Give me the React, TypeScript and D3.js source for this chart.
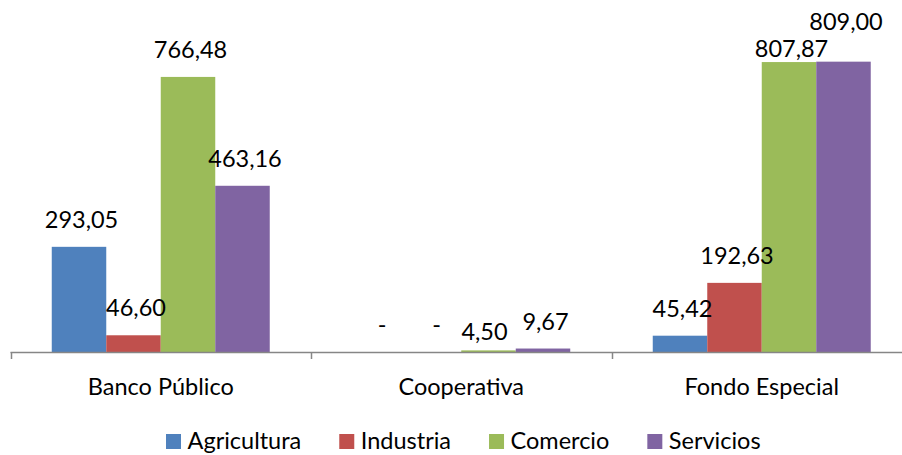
import React, { useEffect, useRef } from "react";
import * as d3 from "d3";

const categories = ["Banco Público", "Cooperativa", "Fondo Especial"];
const seriesNames = ["Agricultura", "Industria", "Comercio", "Servicios"];
const agricultura = [293.05, 0, 45.42];
const industria = [46.6, 0, 192.63];
const comercio = [766.48, 4.5, 807.87];
const servicios = [463.16, 9.67, 809.0];
const seriesColors = ["#4F81BD", "#C0504D", "#9BBB59", "#8064A2"];

const W = 902;
const H = 455;
const FONT = "Lato, 'Open Sans', sans-serif";
const FS = 23.5;

export default function App() {
  const ref = useRef<SVGSVGElement>(null);

  useEffect(() => {
    const svg = d3.select(ref.current);
    svg.selectAll("*").remove();
    const seriesValues = [agricultura, industria, comercio, servicios];

    const baseY = 352;
    const x0 = d3.scaleBand<string>().domain(categories).range([10.5, 912]).padding(0);
    const x1 = d3
      .scaleBand<string>()
      .domain(seriesNames)
      .range([0, x0.bandwidth()])
      .paddingInner(0)
      .paddingOuter(0.757);
    const y = d3.scaleLinear().domain([0, 900]).range([baseY, 29]);

    const g = svg.append("g");

    // bars
    categories.forEach((c, ci) => {
      seriesNames.forEach((s, si) => {
        const v = seriesValues[si][ci];
        if (v <= 0) return;
        const bx = (x0(c) as number) + (x1(s) as number);
        g.append("rect")
          .attr("x", bx)
          .attr("y", y(v))
          .attr("width", x1.bandwidth())
          .attr("height", baseY - y(v))
          .attr("fill", seriesColors[si]);
      });
    });

    // axis
    g.append("line")
      .attr("x1", 10.5)
      .attr("x2", W)
      .attr("y1", baseY + 0.5)
      .attr("y2", baseY + 0.5)
      .attr("stroke", "#868686")
      .attr("stroke-width", 1.5);
    categories.forEach((c) => {
      const tx = Math.round(x0(c) as number) + 0.5;
      g.append("line")
        .attr("x1", tx)
        .attr("x2", tx)
        .attr("y1", baseY)
        .attr("y2", baseY + 7)
        .attr("stroke", "#868686")
        .attr("stroke-width", 1.5);
    });

    // category labels
    categories.forEach((c) => {
      g.append("text")
        .attr("x", (x0(c) as number) + x0.bandwidth() / 2)
        .attr("y", 395)
        .attr("text-anchor", "middle")
        .attr("font-family", FONT)
        .attr("font-size", FS)
        .attr("fill", "#000")
        .text(c);
    });

    // data labels
    const nudges: Record<string, { dx?: number; dy?: number }> = {
      "2-2": { dy: 13.5 },
      "2-3": { dy: -12.7 },
      "1-2": { dy: 8.6, dx: -6.5 },
    };
    const fmt = (v: number) => (v === 0 ? "-" : v.toFixed(2).replace(".", ","));
    categories.forEach((c, ci) => {
      seriesNames.forEach((s, si) => {
        const v = seriesValues[si][ci];
        const cx = (x0(c) as number) + (x1(s) as number) + x1.bandwidth() / 2 + 2.5;
        const n = nudges[`${ci}-${si}`] || {};
        g.append("text")
          .attr("x", cx + (n.dx || 0))
          .attr("y", y(v) - 19 + (n.dy || 0))
          .attr("text-anchor", "middle")
          .attr("font-family", FONT)
          .attr("font-size", FS)
          .attr("fill", "#000")
          .text(fmt(v));
      });
    });

    // legend
    const lg = svg.append("g");
    let lx = 166;
    const legBase = 449;
    seriesNames.forEach((s, si) => {
      lg.append("rect")
        .attr("x", lx)
        .attr("y", legBase - 15)
        .attr("width", 15)
        .attr("height", 15)
        .attr("fill", seriesColors[si]);
      const t = lg
        .append("text")
        .attr("x", lx + 21.5)
        .attr("y", legBase)
        .attr("font-family", FONT)
        .attr("font-size", FS)
        .attr("fill", "#000")
        .text(s);
      const tw = (t.node() as SVGTextElement).getComputedTextLength();
      lx += 21.5 + tw + 38;
    });
  }, []);

  return (
    <svg
      ref={ref}
      width={W}
      height={H}
      style={{ position: "absolute", left: 0, top: 0, background: "#fff" }}
    />
  );
}
